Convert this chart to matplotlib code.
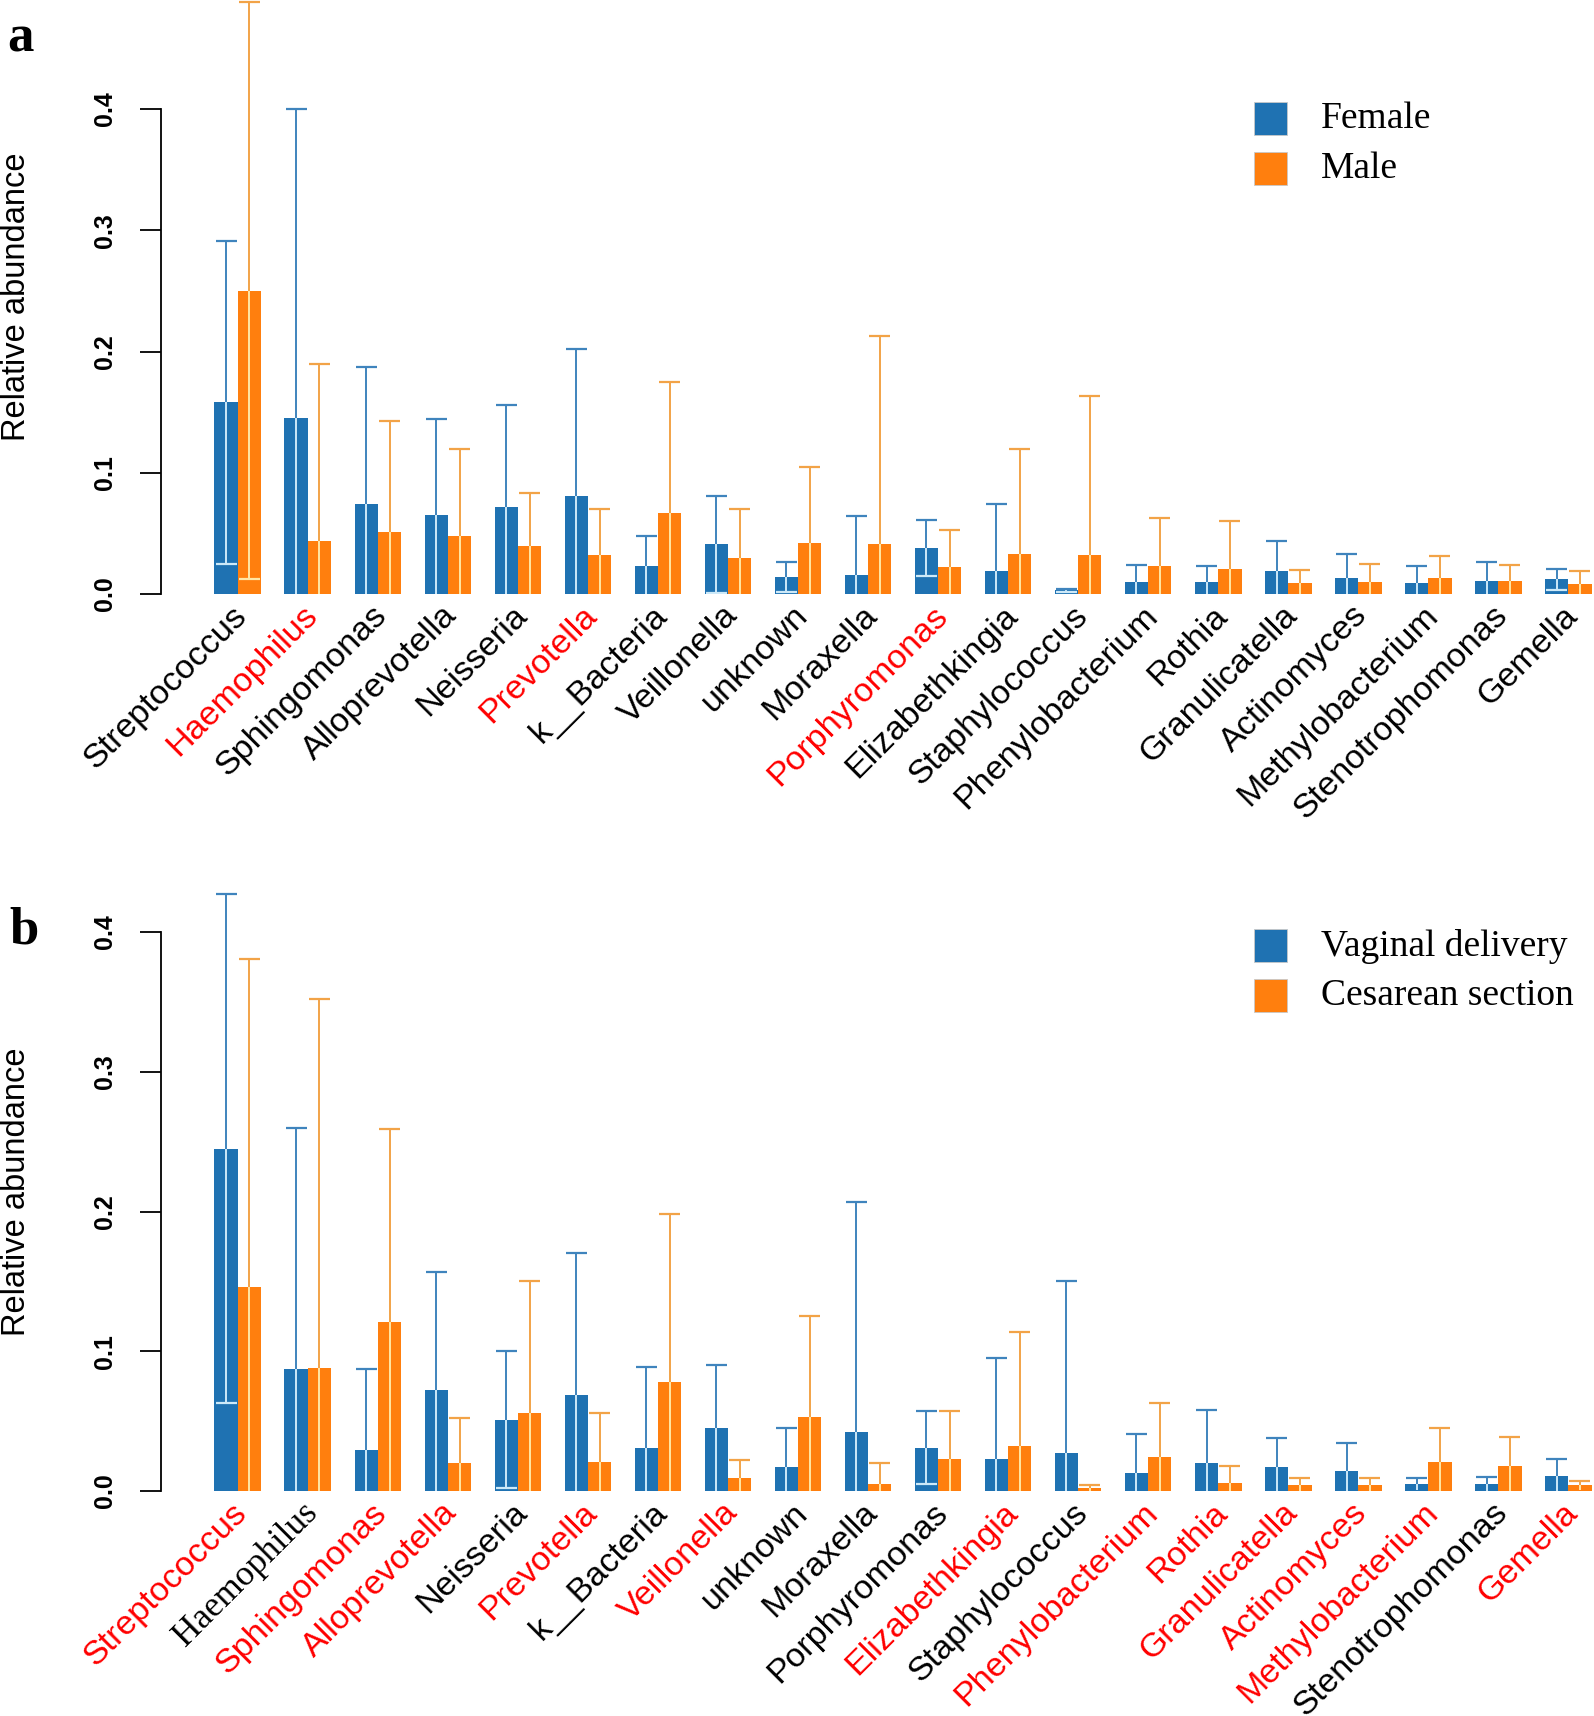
import matplotlib
matplotlib.use('Agg')
import matplotlib.pyplot as plt
from matplotlib.patches import Rectangle

# Genus names (same order in both panels)
genera = ['Streptococcus', 'Haemophilus', 'Sphingomonas', 'Alloprevotella', 'Neisseria',
          'Prevotella', 'k__Bacteria', 'Veillonella', 'unknown', 'Moraxella',
          'Porphyromonas', 'Elizabethkingia', 'Staphylococcus', 'Phenylobacterium', 'Rothia',
          'Granulicatella', 'Actinomyces', 'Methylobacterium', 'Stenotrophomonas', 'Gemella']

# Panel a: gender (mean, sd)
female_mean = [0.158, 0.145, 0.074, 0.065, 0.072, 0.081, 0.023, 0.041, 0.014, 0.016,
               0.038, 0.019, 0.003, 0.010, 0.010, 0.019, 0.013, 0.009, 0.011, 0.012]
female_sd = [0.133, 0.255, 0.113, 0.079, 0.084, 0.121, 0.025, 0.040, 0.012, 0.048,
             0.023, 0.055, 0.001, 0.014, 0.013, 0.025, 0.020, 0.014, 0.015, 0.009]
male_mean = [0.250, 0.044, 0.051, 0.048, 0.040, 0.032, 0.067, 0.030, 0.042, 0.041,
             0.022, 0.033, 0.032, 0.023, 0.021, 0.009, 0.010, 0.013, 0.011, 0.008]
male_sd = [0.238, 0.146, 0.092, 0.072, 0.043, 0.038, 0.108, 0.040, 0.063, 0.172,
           0.031, 0.087, 0.131, 0.040, 0.039, 0.011, 0.015, 0.018, 0.013, 0.011]

# Panel b: delivery mode (mean, sd)
vaginal_mean = [0.245, 0.087, 0.029, 0.072, 0.051, 0.069, 0.031, 0.045, 0.017, 0.042,
                0.031, 0.023, 0.027, 0.013, 0.020, 0.017, 0.014, 0.005, 0.005, 0.011]
vaginal_sd = [0.182, 0.173, 0.058, 0.085, 0.049, 0.101, 0.058, 0.045, 0.028, 0.165,
              0.026, 0.072, 0.123, 0.028, 0.038, 0.021, 0.020, 0.004, 0.005, 0.012]
cesarean_mean = [0.146, 0.088, 0.121, 0.020, 0.056, 0.021, 0.078, 0.009, 0.053, 0.005,
                 0.023, 0.032, 0.002, 0.024, 0.006, 0.004, 0.004, 0.021, 0.018, 0.004]
cesarean_sd = [0.235, 0.264, 0.138, 0.032, 0.094, 0.035, 0.120, 0.013, 0.072, 0.015,
               0.034, 0.082, 0.002, 0.039, 0.012, 0.005, 0.005, 0.024, 0.021, 0.003]

red_a = ['Haemophilus', 'Prevotella', 'Porphyromonas']
red_b = ['Streptococcus', 'Sphingomonas', 'Alloprevotella', 'Prevotella', 'Veillonella',
         'Elizabethkingia', 'Phenylobacterium', 'Rothia', 'Granulicatella', 'Actinomyces',
         'Methylobacterium', 'Gemella']

BLUE = '#1f72b2'
ORANGE = '#ff7f0e'
BLUE_ERR = '#3f84bd'
ORANGE_ERR = '#f2a347'
BLUE_IN = '#cde9f8'
ORANGE_IN = '#ffe7a6'

W, H = 1594, 1716
fig = plt.figure(figsize=(W / 100, H / 100), dpi=100)


def draw_panel(ax, m1, s1, m2, s2, ylim, red, serif_label=None):
    for i in range(len(genera)):
        for x, m, s, c, ce, ci in [(3 * i + 1.5, m1[i], s1[i], BLUE, BLUE_ERR, BLUE_IN),
                                   (3 * i + 2.5, m2[i], s2[i], ORANGE, ORANGE_ERR, ORANGE_IN)]:
            ax.bar(x, m, width=1.0, color=c, edgecolor='none')
            lo = max(m - s, 0)
            hi = m + s
            ax.vlines(x, lo, m, color=ci, lw=1.4, zorder=3)
            ax.vlines(x, m, hi, color=ce, lw=1.4, zorder=3, clip_on=False)
            ax.hlines(hi, x - 0.45, x + 0.45, color=ce, lw=1.6, zorder=3, clip_on=False)
            if m - s > 0.001:
                ax.hlines(lo, x - 0.45, x + 0.45, color=ci, lw=1.6, zorder=3)

    ax.set_xlim(-1.29, 60.1)
    ax.set_ylim(*ylim)
    for sp in ['top', 'right', 'bottom']:
        ax.spines[sp].set_visible(False)
    ax.spines['left'].set_bounds(0, 0.4)
    ax.spines['left'].set_linewidth(1.3)
    ax.set_xticks([])
    ax.set_yticks([0, 0.1, 0.2, 0.3, 0.4])
    ax.set_yticklabels(['0.0', '0.1', '0.2', '0.3', '0.4'], rotation=90, va='center',
                       fontsize=18, fontweight='bold', family='Liberation Sans')
    ax.tick_params(axis='y', length=15, width=1.3, pad=17)
    ax.set_ylabel('Relative abundance', fontsize=23.5, family='Liberation Sans')
    ax.yaxis.label.set_va('center')
    ax.yaxis.set_label_coords(-(161 - 17) / (W - 161), 0.5)

    dy = -0.014 * (ylim[1] - ylim[0]) / 0.49
    for i, g in enumerate(genera):
        col = 'red' if g in red else 'black'
        fam = 'Liberation Serif' if g == serif_label else 'Liberation Sans'
        fs = 25.5 if g == serif_label else 24.5
        ax.text(3 * i + 2.2, dy, g, rotation=45, ha='right', va='center', family=fam,
                rotation_mode='anchor', fontsize=fs, color=col, clip_on=False)


# panel a
ax_a = fig.add_axes([161 / W, 1 - 594 / H, (W - 161) / W, 594 / H])
draw_panel(ax_a, female_mean, female_sd, male_mean, male_sd, (0, 0.49), red_a)

# panel b
ax_b = fig.add_axes([161 / W, 1 - 1491 / H, (W - 161) / W, (1491 - 893) / H])
draw_panel(ax_b, vaginal_mean, vaginal_sd, cesarean_mean, cesarean_sd, (0, 0.428), red_b,
           serif_label='Haemophilus')


def legend(y_top, labels):
    for k, (lab, c) in enumerate(zip(labels, [BLUE, ORANGE])):
        y = y_top + k * 50
        fig.patches.append(Rectangle((1254 / W, 1 - (y + 33) / H), 33 / W, 33 / H,
                                     transform=fig.transFigure, facecolor=c,
                                     edgecolor='#c8c8c8', lw=0.6))
        fig.text(1321 / W, 1 - (y + 17) / H, lab, fontsize=27, family='Liberation Serif',
                 va='center', ha='left')


legend(102, ['Female', 'Male'])
legend(929, ['Vaginal delivery', 'Cesarean section'])

fig.text(20 / W, 1 - 38 / H, 'a', fontsize=38, fontweight='bold', family='Liberation Serif',
         ha='center', va='center')
fig.text(24 / W, 1 - 930 / H, 'b', fontsize=38, fontweight='bold', family='Liberation Serif',
         ha='center', va='center')

fig.savefig('out.png', dpi=100, facecolor='white')
